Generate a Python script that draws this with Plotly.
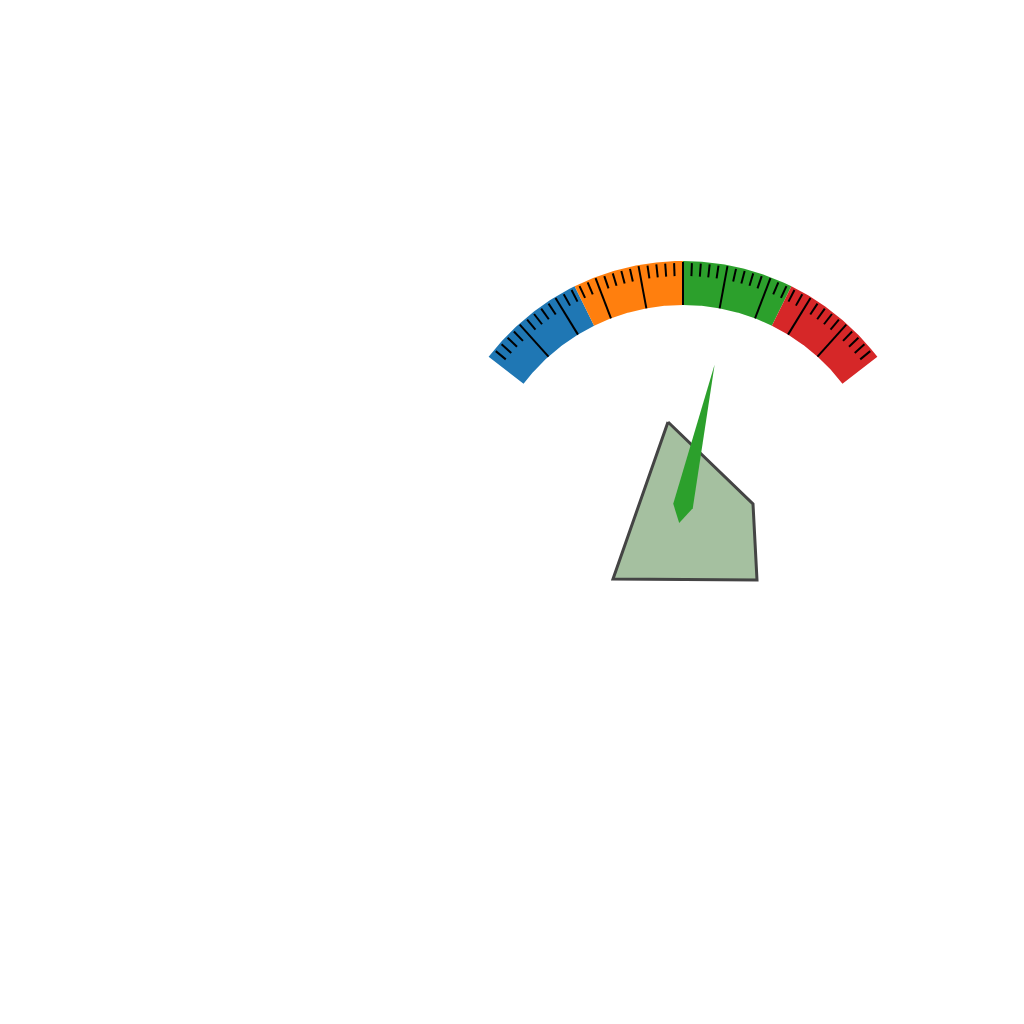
import numpy as np
import plotly.graph_objects as go

# gauge data
gauge_min = 0
gauge_max = 100
band_edges = [0, 25, 50, 75, 100]
band_colors = ["#1f77b4", "#ff7f0e", "#2ca02c", "#d62728"]
major_ticks = [10, 20, 30, 40, 50, 60, 70, 80, 90]
minor_ticks = [v for v in range(2, 100, 2) if v % 10 != 0]
needle_value = 62

# polygon overlay (centre of gauge = 0, 0)
poly_x = [-15, 70, 74, -70]
poly_y = [84, 2, -74, -73]

# geometry
R_OUT = 245
R_IN = 201
A_START = 142.5   # degrees at gauge_min
A_END = 37.5      # degrees at gauge_max


def val_to_angle(v):
    frac = (v - gauge_min) / (gauge_max - gauge_min)
    return np.radians(A_START + (A_END - A_START) * frac)


fig = go.Figure()

# coloured bands
for lo, hi, col in zip(band_edges[:-1], band_edges[1:], band_colors):
    t = val_to_angle(np.linspace(lo, hi, 60))
    xs = np.concatenate([R_OUT * np.cos(t), R_IN * np.cos(t[::-1])])
    ys = np.concatenate([R_OUT * np.sin(t), R_IN * np.sin(t[::-1])])
    fig.add_trace(go.Scatter(x=xs, y=ys, mode="lines", fill="toself",
                             fillcolor=col, line=dict(width=0, color=col),
                             hoverinfo="skip"))


def tick_segments(values, r0, r1):
    xs, ys = [], []
    for v in values:
        a = val_to_angle(v)
        xs += [r0 * np.cos(a), r1 * np.cos(a), None]
        ys += [r0 * np.sin(a), r1 * np.sin(a), None]
    return xs, ys


mx, my = tick_segments(minor_ticks, R_OUT - 2, R_OUT - 15)
fig.add_trace(go.Scatter(x=mx, y=my, mode="lines",
                         line=dict(color="black", width=2), hoverinfo="skip"))
Mx, My = tick_segments(major_ticks, R_OUT - 1, R_IN)
fig.add_trace(go.Scatter(x=Mx, y=My, mode="lines",
                         line=dict(color="black", width=2), hoverinfo="skip"))

# polygon
fig.add_trace(go.Scatter(x=poly_x + poly_x[:1], y=poly_y + poly_y[:1],
                         mode="lines", fill="toself", fillcolor="#a5c0a0",
                         line=dict(color="#444444", width=3), hoverinfo="skip"))

# needle
a = val_to_angle(needle_value)
d = np.array([np.cos(a), np.sin(a)])
p = np.array([-d[1], d[0]])
tip = 145 * d
tail = -17.5 * d
left = 10 * p
right = -10 * p
nx = [tip[0], left[0], tail[0], right[0], tip[0]]
ny = [tip[1], left[1], tail[1], right[1], tip[1]]
fig.add_trace(go.Scatter(x=nx, y=ny, mode="lines", fill="toself",
                         fillcolor="#2ca02c", line=dict(width=0, color="#2ca02c"),
                         hoverinfo="skip"))

# page body adds an 8px offset, so the ranges are shifted to compensate
fig.update_layout(
    width=1024, height=1024,
    margin=dict(l=0, r=0, t=0, b=0),
    showlegend=False,
    plot_bgcolor="white", paper_bgcolor="white",
    xaxis=dict(range=[-675, 349], visible=False, fixedrange=True),
    yaxis=dict(range=[-526, 498], visible=False, fixedrange=True),
)

fig.write_html("out.html")
